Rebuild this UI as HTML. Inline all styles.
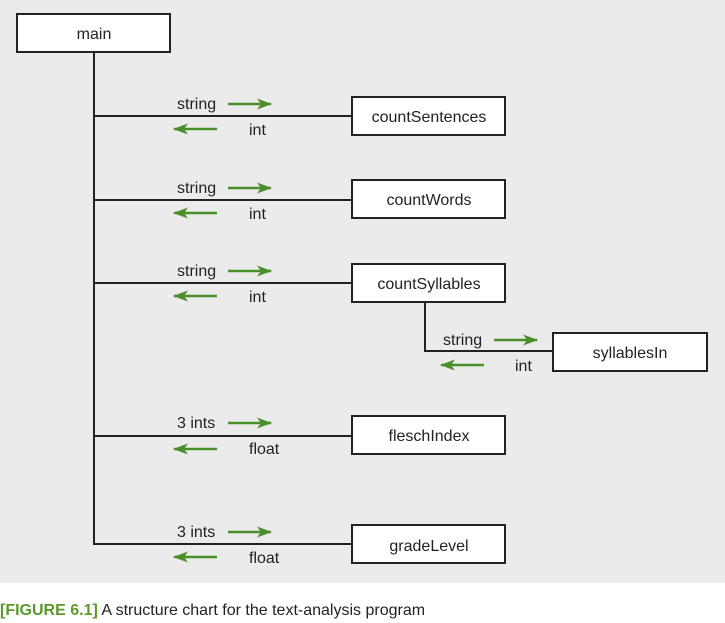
<!DOCTYPE html>
<html><head><meta charset="utf-8"><style>
html,body{margin:0;padding:0;background:#fff;width:725px;height:623px;overflow:hidden}
svg{display:block}
text{font-family:"Liberation Sans",sans-serif;font-size:16px;fill:#222}
</style></head><body>
<svg width="725" height="623" viewBox="0 0 725 623">
<defs>
<marker id="ah" markerWidth="15" markerHeight="12" refX="14" refY="6" orient="auto" markerUnits="userSpaceOnUse">
<path d="M0,0.5 L15,6 L0,11.5 L4,6 Z" fill="#4a8f2a"/></marker>
</defs>
<rect x="0" y="0" width="725" height="583" fill="#ebebeb"/>
<g stroke="#222" stroke-width="2" fill="none">
<line x1="94" y1="52" x2="94" y2="545"/>
<line x1="94" y1="116" x2="352" y2="116"/>
<line x1="94" y1="200" x2="352" y2="200"/>
<line x1="94" y1="283" x2="352" y2="283"/>
<line x1="94" y1="436" x2="352" y2="436"/>
<line x1="94" y1="544" x2="352" y2="544"/>
<polyline points="425,302 425,351 553,351"/>
</g>
<g stroke="#222" stroke-width="2" fill="#fff">
<rect x="17" y="14" width="153" height="38"/>
<rect x="352" y="97" width="153" height="38"/>
<rect x="352" y="180" width="153" height="38"/>
<rect x="352" y="264" width="153" height="38"/>
<rect x="553" y="333" width="154" height="38"/>
<rect x="352" y="416" width="153" height="38"/>
<rect x="352" y="525" width="153" height="38"/>
</g>
<g text-anchor="middle">
<text x="94" y="39">main</text>
<text x="429" y="122">countSentences</text>
<text x="429" y="205">countWords</text>
<text x="429" y="289">countSyllables</text>
<text x="630" y="358">syllablesIn</text>
<text x="429" y="441">fleschIndex</text>
<text x="429" y="551">gradeLevel</text>
</g>
<g stroke="#4a8f2a" stroke-width="2.4" fill="none">
<line x1="228" y1="104" x2="271" y2="104" marker-end="url(#ah)"/>
<line x1="217" y1="129" x2="174" y2="129" marker-end="url(#ah)"/>
<line x1="228" y1="188" x2="271" y2="188" marker-end="url(#ah)"/>
<line x1="217" y1="213" x2="174" y2="213" marker-end="url(#ah)"/>
<line x1="228" y1="271" x2="271" y2="271" marker-end="url(#ah)"/>
<line x1="217" y1="296" x2="174" y2="296" marker-end="url(#ah)"/>
<line x1="494" y1="340" x2="537" y2="340" marker-end="url(#ah)"/>
<line x1="484" y1="365" x2="441" y2="365" marker-end="url(#ah)"/>
<line x1="228" y1="423" x2="271" y2="423" marker-end="url(#ah)"/>
<line x1="217" y1="449" x2="174" y2="449" marker-end="url(#ah)"/>
<line x1="228" y1="532" x2="271" y2="532" marker-end="url(#ah)"/>
<line x1="217" y1="557" x2="174" y2="557" marker-end="url(#ah)"/>
</g>
<text x="177" y="109">string</text><text x="249" y="135">int</text>
<text x="177" y="193">string</text><text x="249" y="219">int</text>
<text x="177" y="276">string</text><text x="249" y="302">int</text>
<text x="443" y="345">string</text><text x="515" y="371">int</text>
<text x="177" y="428">3 ints</text><text x="249" y="454">float</text>
<text x="177" y="537">3 ints</text><text x="249" y="563">float</text>
<text x="0" y="615" style="font-size:16px"><tspan style="fill:#5a9a2a;font-weight:bold">[FIGURE 6.1]</tspan> A structure chart for the text-analysis program</text>
</svg>
</body></html>
